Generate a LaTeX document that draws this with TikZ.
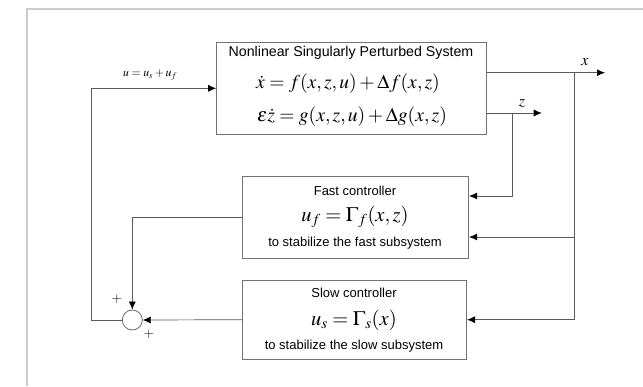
\documentclass[tikz,border=0pt]{standalone}
\usepackage{mathptmx}
\usepackage{fontspec}
\setsansfont{Liberation Sans}
\usepackage{tikz}
\usetikzlibrary{arrows.meta}

\tikzset{
    blk/.style={draw=black!55, line width=0.8pt, inner sep=0pt},
    sig/.style={draw=black!65, line width=0.7pt},
    tip/.style={sig, -{Latex[length=8pt, width=7pt, black]}},
    txt/.style={inner sep=0pt},
    captxt/.style={txt, font=\sffamily\fontsize{13}{15}\selectfont},
    headtxt/.style={txt, font=\sffamily\fontsize{14.2}{16}\selectfont},
    eq/.style={txt, font=\fontsize{19.6}{21}\selectfont},
    ceq/.style={txt, font=\fontsize{20.5}{22}\selectfont}
}

\begin{document}
\begin{tikzpicture}[x=1pt, y=-1pt]
    \useasboundingbox (0,0) rectangle (643,386);
    % frame
    \draw[black!20, line width=1.5pt] (27,386) -- (27,9) -- (643,9);

    % plant
    \node[blk, minimum width=270pt, minimum height=92pt] (plant) at (351.5,88) {};
    \node[headtxt] (ptitle) at (351,53) {Nonlinear Singularly Perturbed System};
    \node[eq] (peqx) at (348,84) {$\dot{x} = f(x,z,u) + \Delta f(x,z)$};
    \node[eq] (peqz) at (352,117) {$\varepsilon\dot{z} = g(x,z,u) + \Delta g(x,z)$};

    % fast controller
    \node[blk, minimum width=226pt, minimum height=82pt] (fast) at (355.7,217) {};
    \node[captxt] (ftitle) at (355,191) {Fast controller};
    \node[ceq] (feq) at (355,217) {$u_{f} = \Gamma_{f}(x,z)$};
    \node[captxt] (fnote) at (355,243) {to stabilize the fast subsystem};

    % slow controller
    \node[blk, minimum width=224pt, minimum height=79pt] (slow) at (354.7,319.7) {};
    \node[captxt] (stitle) at (354,293) {Slow controller};
    \node[ceq] (seq) at (354,320) {$u_{s} = \Gamma_{s}(x)$};
    \node[captxt] (snote) at (354,346) {to stabilize the slow subsystem};

    % summing junction
    \node[blk, circle, minimum size=20pt, draw=black!60] (sum) at (132.3,320) {};
    \node[txt, font=\fontsize{13}{13}\selectfont] (plusa) at (117,299) {$+$};
    \node[txt, font=\fontsize{13}{13}\selectfont] (plusb) at (149,334) {$+$};

    % outputs
    \coordinate (xout) at (605,72.7);
    \coordinate (zout) at (541.7,113);
    \coordinate (xbr) at (574,72.7);
    \coordinate (zbr) at (512.7,113);
    \draw[tip] (plant.east |- xout) -- (xout);
    \draw[tip] (plant.east |- zout) -- (zout);
    \node[txt, font=\fontsize{16}{16}\selectfont] (xlab) at (585,62) {$x$};
    \node[txt, font=\fontsize{16}{16}\selectfont] (zlab) at (522,104) {$z$};

    % feedback to controllers
    \draw[tip] (zbr) -- (zbr |- 0,196) -- (fast.east |- 0,196);
    \draw[tip] (xbr) -- (xbr |- slow.east) -- (slow.east);
    \draw[tip] (xbr |- 0,237) -- (fast.east |- 0,237);

    % controller outputs to summing junction
    \draw[tip] (fast.west |- 0,217.3) -- (sum.north |- 0,217.3) -- (sum.north);
    \draw[tip] (slow.west) -- (sum.east);

    % control input
    \coordinate (uin) at (91.7,88.3);
    \draw[tip] (sum.west) -- (uin |- sum.west) -- (uin) -- (plant.west |- uin);
    \node[txt, font=\fontsize{11.8}{12}\selectfont] (ulab) at (150,75) {$u = u_{s} + u_{f}$};
\end{tikzpicture}
\end{document}
